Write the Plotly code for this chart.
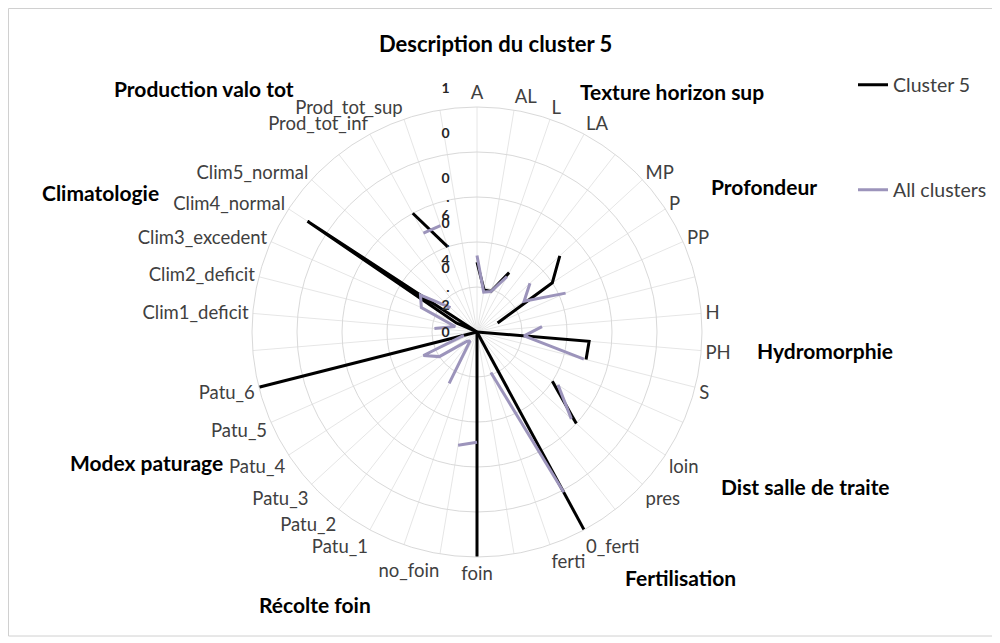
import plotly.graph_objects as go

# ---- data -------------------------------------------------------------
categories = ["A", "AL", "L", "LA", "",
              "MP", "P", "PP", "",
              "H", "PH", "S", "",
              "loin", "pres", "",
              "0_ferti", "ferti", "",
              "foin", "no_foin", "",
              "Patu_1", "Patu_2", "Patu_3", "Patu_4", "Patu_5", "Patu_6", "",
              "Clim1_deficit", "Clim2_deficit", "Clim3_excedent", "Clim4_normal", "Clim5_normal", "",
              "Prod_tot_inf", "Prod_tot_sup", ""]

cluster5 = [0.31, 0.19, 0.19, 0.30, None,
            0.50, 0.40, 0.10, None,
            0.00, 0.50, 0.50, None,
            0.40, 0.60, None,
            1.00, 0.00, None,
            1.00, 0.00, None,
            0.00, 0.00, 0.00, 0.00, 0.00, 1.00, None,
            0.00, 0.00, 0.10, 0.90, 0.00, None,
            0.60, 0.40, None]

all_clusters = [0.34, 0.18, 0.19, 0.28, None,
                0.32, 0.25, 0.43, None,
                0.29, 0.21, 0.49, None,
                0.43, 0.57, None,
                0.81, 0.19, None,
                0.49, 0.51, None,
                0.26, 0.05, 0.06, 0.20, 0.26, 0.06, None,
                0.19, 0.10, 0.27, 0.30, 0.16, None,
                0.50, 0.50, None]

radial_ticks = [0, 0.2, 0.4, 0.6, 0.8, 1.0]
HID = "<span style='color:rgba(0,0,0,0)'>{}</span>"
radial_ticktext = ["0",
                   "0<br>.<br>2",
                   "0<br>.<br>4",
                   "0<br>.<br>6",
                   "0<br>" + HID.format(".") + "<br>" + HID.format("8"),
                   "1<br>" + HID.format(".") + "<br>" + HID.format("0")]

group_titles = ["Production valo tot", "Texture horizon sup", "Profondeur",
                "Climatologie", "Hydromorphie", "Dist salle de traite",
                "Modex paturage", "Fertilisation", "Récolte foin"]
# centres in page pixels of the reference
group_pos = [(204, 88), (672, 92), (764, 186), (100, 192), (825, 351),
             (805, 487), (146, 462), (680, 577), (315, 604)]

title_text = "Description du cluster 5"

# ---- figure -----------------------------------------------------------
OFF = 8                      # page body margin of the html page
W, H = 992, 635
n = len(categories)
theta = [i * 360.0 / n for i in range(n)]

FONT = "Lato, Calibri, Carlito, sans-serif"


def px(x):
    return (x - OFF) / W


def py(y):
    return 1 - (y - OFF) / H


fig = go.Figure()
fig.add_trace(go.Scatterpolar(
    r=cluster5, theta=theta, mode="lines", name="Cluster 5",
    line=dict(color="#000000", width=3), connectgaps=False,
    legend="legend"))
fig.add_trace(go.Scatterpolar(
    r=all_clusters, theta=theta, mode="lines", name="All clusters",
    line=dict(color="#9c94bb", width=3), connectgaps=False,
    legend="legend2"))

cx, cy, R = 477, 332, 225
dom_x = [px(cx - R), px(cx + R)]
dom_y = [py(cy + R), py(cy - R)]

fig.update_layout(
    width=W, height=H,
    margin=dict(l=0, r=0, t=0, b=0),
    paper_bgcolor="white",
    plot_bgcolor="white",
    font=dict(family=FONT, size=18, color="#404040"),
    polar=dict(
        domain=dict(x=dom_x, y=dom_y),
        bgcolor="white",
        angularaxis=dict(
            type="linear", thetaunit="degrees",
            rotation=90, direction="clockwise",
            tickmode="array", tickvals=theta, ticktext=categories,
            showgrid=True, gridcolor="#e6e6e6", gridwidth=1,
            showline=True, linecolor="#d9d9d9", linewidth=1,
            ticks="", tickfont=dict(family=FONT, size=18.5, color="#404040"),
        ),
        radialaxis=dict(
            range=[0, 1], angle=90, side="counterclockwise",
            tickmode="array", tickvals=radial_ticks, ticktext=radial_ticktext,
            tickangle=90,
            showgrid=True, gridcolor="#d9d9d9", gridwidth=1,
            showline=False, ticks="outside", ticklen=22,
            tickcolor="rgba(0,0,0,0)",
            tickfont=dict(family=FONT, size=14, color="#262626", weight="bold"),
        ),
    ),
    showlegend=True,
    legend=dict(x=px(853), y=py(85), xanchor="left", yanchor="middle",
                bgcolor="rgba(0,0,0,0)", font=dict(family=FONT, size=19.5, color="#404040")),
    legend2=dict(x=px(853), y=py(190), xanchor="left", yanchor="middle",
                 bgcolor="rgba(0,0,0,0)", font=dict(family=FONT, size=19.5, color="#404040")),
)

annotations = [dict(text="<b>" + title_text + "</b>", x=px(495), y=py(44),
                    xref="paper", yref="paper", showarrow=False,
                    xanchor="center", yanchor="middle",
                    font=dict(family=FONT, size=22, color="#000000"))]
for txt, (gx, gy) in zip(group_titles, group_pos):
    annotations.append(dict(text="<b>" + txt + "</b>", x=px(gx), y=py(gy),
                            xref="paper", yref="paper", showarrow=False,
                            xanchor="center", yanchor="middle",
                            font=dict(family=FONT, size=21, color="#000000")))
fig.update_layout(annotations=annotations)

fig.add_shape(type="rect", xref="paper", yref="paper",
              x0=px(8.5), x1=px(993), y0=py(636), y1=py(8.5),
              line=dict(color="#d0d0d0", width=1), fillcolor="rgba(0,0,0,0)")

fig.write_html("out.html")
